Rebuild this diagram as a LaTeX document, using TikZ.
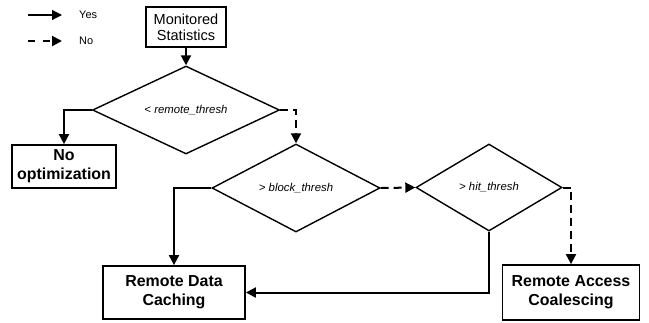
\documentclass[tikz,border=0pt]{standalone}
\usepackage{fontspec}
\setmainfont{Liberation Sans}
\usetikzlibrary{shapes.geometric,arrows.meta}
\tikzset{
  tip/.style={-{Triangle[length=10bp,width=10bp]}},
  conn/.style={line width=2bp, tip},
  noconn/.style={conn, dash pattern=on 8bp off 5bp},
  box/.style={draw, line width=1.8bp, inner sep=0pt, align=center},
  plainbox/.style={box, font=\fontsize{14.6}{16}\selectfont},
  boldbox/.style={box, font=\fontsize{16}{19}\selectfont\bfseries},
  decision/.style={draw, diamond, aspect=2, line width=1.4bp, inner sep=0pt,
    font=\fontsize{11.4}{13}\selectfont\itshape},
  legendtext/.style={anchor=west, inner sep=0pt, font=\fontsize{11}{12}\selectfont}
}
\begin{document}
\begin{tikzpicture}[x=1bp,y=-1bp]
\useasboundingbox (0,0) rectangle (649,322);
% legend
\coordinate (ya) at (28,15);
\coordinate (yb) at (62,15);
\coordinate (na) at (28,41);
\coordinate (nb) at (62,41);
\draw[line width=1.2bp, tip] (ya) -- (yb);
\draw[line width=2bp, tip, dash pattern=on 7bp off 8bp] (na) -- (nb);
\node[legendtext] (yes) at (79,15) {Yes};
\node[legendtext] (no) at (79,41) {No};
% nodes
\node[plainbox, minimum width=80bp, minimum height=40bp] (mon) at (186,27) {Monitored\\Statistics};
\node[decision, minimum width=187bp, minimum height=88bp] (d1) at (186,110) {< remote\_thresh};
\node[boldbox, minimum width=104bp, minimum height=43bp] (noopt) at (64,166.5) {No\\optimization};
\node[decision, minimum width=168bp, minimum height=88bp] (d2) at (296,188) {> block\_thresh};
\node[decision, minimum width=146bp, minimum height=87bp] (d3) at (489,187.5) {> hit\_thresh};
\node[boldbox, minimum width=142bp, minimum height=53bp] (rdc) at (174,292.5) {Remote Data\\Caching};
\node[boldbox, minimum width=137bp, minimum height=55bp] (rac) at (571,292.5) {Remote Access\\Coalescing};
% connectors
\draw[conn] (mon.south) -- (d1.north);
\draw[conn] (d1.west) -| (noopt.north);
\draw[noconn] (d1.east) -| (d2.north);
\draw[conn] (d2.west) -| (rdc.north);
\draw[noconn] (d2.east) -- (d3.west);
\draw[conn] (d3.south) |- (rdc.east);
\draw[noconn] (d3.east) -| (rac.north);
\end{tikzpicture}
\end{document}
